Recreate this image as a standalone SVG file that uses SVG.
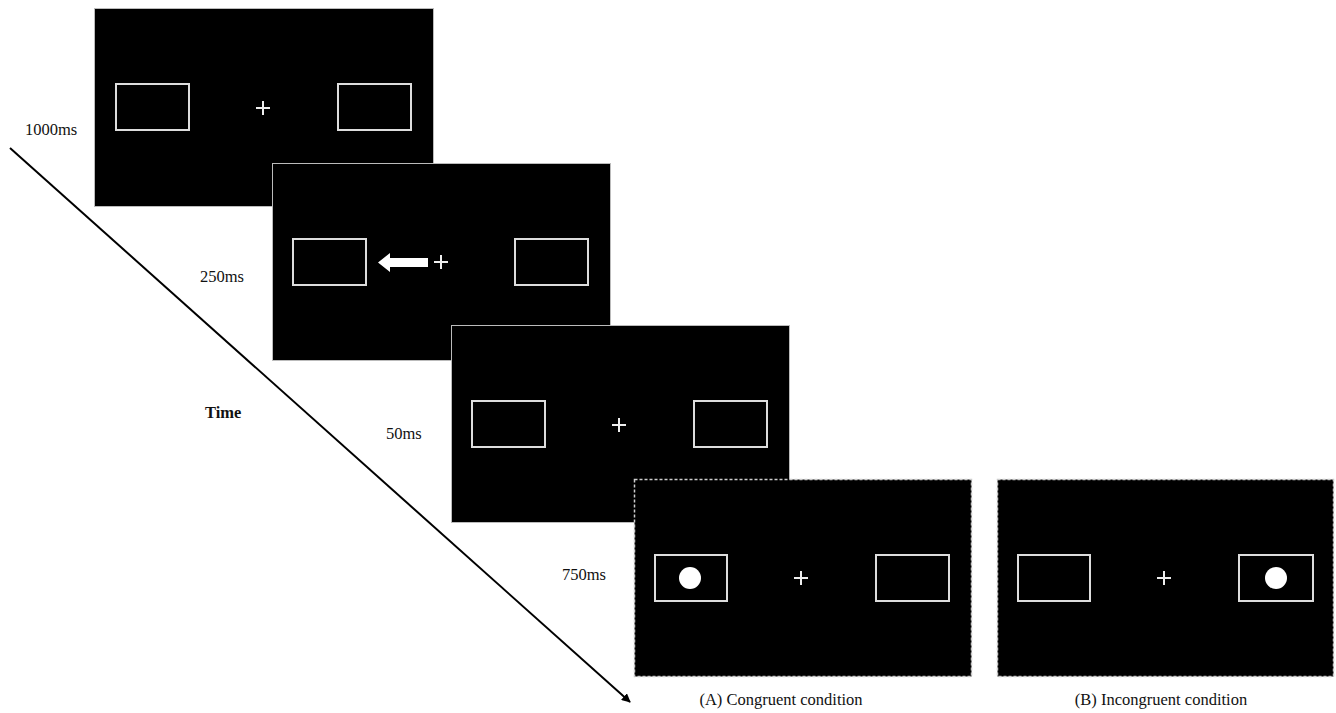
<svg xmlns="http://www.w3.org/2000/svg" width="1336" height="713" viewBox="0 0 1336 713">
<style>
.scr{fill:#000;stroke:#bbb;stroke-width:1}
.dash{fill:#000;stroke:#ccc;stroke-width:1.5;stroke-dasharray:3 2}
.box{fill:none;stroke:#ddd;stroke-width:2}
.fix{stroke:#eee;stroke-width:2}
.lbl{font-family:"Liberation Serif",serif;font-size:16.5px;fill:#111}
</style>
<defs>
<marker id="ah" viewBox="0 0 10 10" refX="9" refY="5" markerWidth="9" markerHeight="9" markerUnits="userSpaceOnUse" orient="auto">
<path d="M0,0 L10,5 L0,10 z" fill="#000"/>
</marker>
<g id="plus"><line class="fix" x1="-7" y1="0" x2="7" y2="0"/><line class="fix" x1="0" y1="-7" x2="0" y2="7"/></g>
</defs>
<rect width="1336" height="713" fill="#fff"/>
<g id="frame1">
<rect class="scr" x="94.5" y="8.5" width="339" height="198"/>
<rect class="box" x="116" y="84" width="73" height="46"/>
<use href="#plus" x="263" y="108"/>
<rect class="box" x="338" y="84" width="73" height="46"/>
</g>
<g id="frame2">
<rect class="scr" x="272.5" y="163.5" width="338" height="197"/>
<rect class="box" x="293" y="239" width="73" height="46"/>
<path d="M378,262.5 L390,253 L390,258 L428,258 L428,267 L390,267 L390,272 z" fill="#fff"/>
<use href="#plus" x="441" y="262"/>
<rect class="box" x="515" y="239" width="73" height="46"/>
</g>
<g id="frame3">
<rect class="scr" x="451.5" y="325.5" width="338" height="197"/>
<rect class="box" x="472" y="401" width="73" height="46"/>
<use href="#plus" x="619" y="425"/>
<rect class="box" x="694" y="401" width="73" height="46"/>
</g>
<g id="frame4">
<rect class="dash" x="634.5" y="479.5" width="337" height="197"/>
<rect class="box" x="655" y="555" width="72" height="46"/>
<circle cx="690" cy="578" r="11" fill="#fff"/>
<use href="#plus" x="801" y="578"/>
<rect class="box" x="876" y="555" width="73" height="46"/>
</g>
<g id="frame5">
<rect class="dash" x="997.5" y="479.5" width="336" height="197"/>
<rect class="box" x="1018" y="555" width="72" height="46"/>
<use href="#plus" x="1164" y="578"/>
<rect class="box" x="1239" y="555" width="74" height="46"/>
<circle cx="1276" cy="578" r="11" fill="#fff"/>
</g>
<g id="connectors">
<line x1="10" y1="148" x2="630" y2="702" stroke="#000" stroke-width="2" marker-end="url(#ah)"/>
</g>
<g id="labels">
<text class="lbl" x="25" y="135">1000ms</text>
<text class="lbl" x="200" y="282">250ms</text>
<text class="lbl" x="205" y="418" font-weight="bold" font-size="19.5">Time</text>
<text class="lbl" x="386" y="439">50ms</text>
<text class="lbl" x="562" y="580">750ms</text>
<text class="lbl" x="781" y="705" text-anchor="middle">(A) Congruent condition</text>
<text class="lbl" x="1161" y="705" text-anchor="middle">(B) Incongruent condition</text>
</g>
</svg>
